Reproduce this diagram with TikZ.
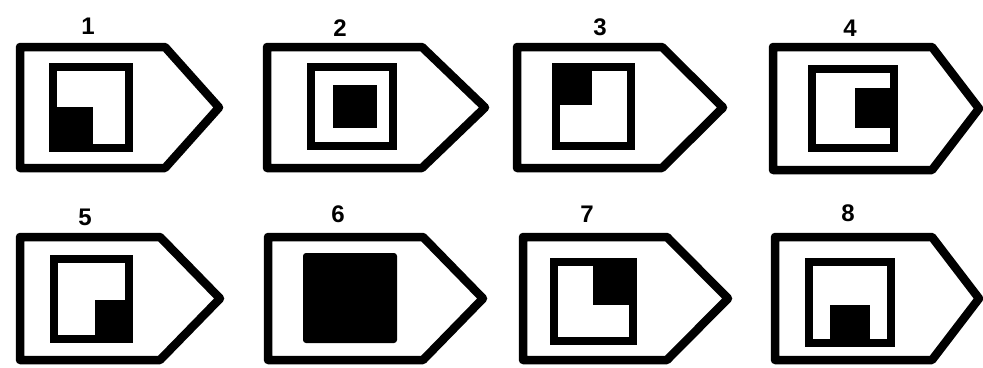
\documentclass[tikz,border=0pt]{standalone}
\usepackage{fontspec}
\setmainfont{Liberation Sans}
\begin{document}
\begin{tikzpicture}[x=1pt,y=-1pt,
  outline/.style={draw=black,line width=8.5pt,line join=round},
  inbox/.style={draw=black,line width=8pt,line join=miter},
  blk/.style={fill=black},
  numlabel/.style={font=\bfseries\fontsize{24}{24}\selectfont,inner sep=0pt}]
\useasboundingbox (0,0) rectangle (983,367);
\fill[white] (0,0) rectangle (983,367);
% ---- row 1 ----
% 1
\draw[outline] (20,47) -- (165,47) -- (219,107.5) -- (165,168) -- (20,168) -- cycle;
\fill[blk] (53,107) rectangle (93,148);
\draw[inbox] (53,67) rectangle (129,148);
\node[numlabel] (n1) at (88,26) {1};
% 2
\draw[outline] (267,47) -- (422,47) -- (485,107.5) -- (422,168) -- (267,168) -- cycle;
\draw[inbox] (311,67) rectangle (393,146);
\fill[blk] (333,85) rectangle (377,128);
\node[numlabel] (n2) at (340,28) {2};
% 3
\draw[outline] (517,47) -- (662,47) -- (723,107.5) -- (662,168) -- (517,168) -- cycle;
\fill[blk] (556,67) rectangle (592,105);
\draw[inbox] (556,67) rectangle (631,146);
\node[numlabel] (n3) at (600,27) {3};
% 4
\draw[outline] (773,47) -- (932,47) -- (979,108.5) -- (932,170) -- (773,170) -- cycle;
\fill[blk] (855,88) rectangle (894,128);
\draw[inbox] (812,69) rectangle (894,148);
\node[numlabel] (n4) at (850,28) {4};
% ---- row 2 ----
% 5
\draw[outline] (20,237) -- (160,237) -- (220,298.5) -- (160,360) -- (20,360) -- cycle;
\fill[blk] (95,300) rectangle (129,339);
\draw[inbox] (54,259) rectangle (129,339);
\node[numlabel] (n5) at (85,217) {5};
% 6
\draw[outline] (268,237) -- (423,237) -- (483,298.5) -- (423,360) -- (268,360) -- cycle;
\fill[blk,rounded corners=3pt] (303,253) rectangle (397,343);
\node[numlabel] (n6) at (338,214) {6};
% 7
\draw[outline] (523,237) -- (667,237) -- (728,298.5) -- (667,360) -- (523,360) -- cycle;
\fill[blk] (593,262) rectangle (633,305);
\draw[inbox] (554,262) rectangle (633,341);
\node[numlabel] (n7) at (587,214) {7};
% 8
\draw[outline] (775,237) -- (932,237) -- (979,298.5) -- (932,360) -- (775,360) -- cycle;
\fill[blk] (830,305) rectangle (870,347);
\draw[inbox] (809,262) rectangle (891,343);
\node[numlabel] (n8) at (848,213) {8};
\end{tikzpicture}
\end{document}
